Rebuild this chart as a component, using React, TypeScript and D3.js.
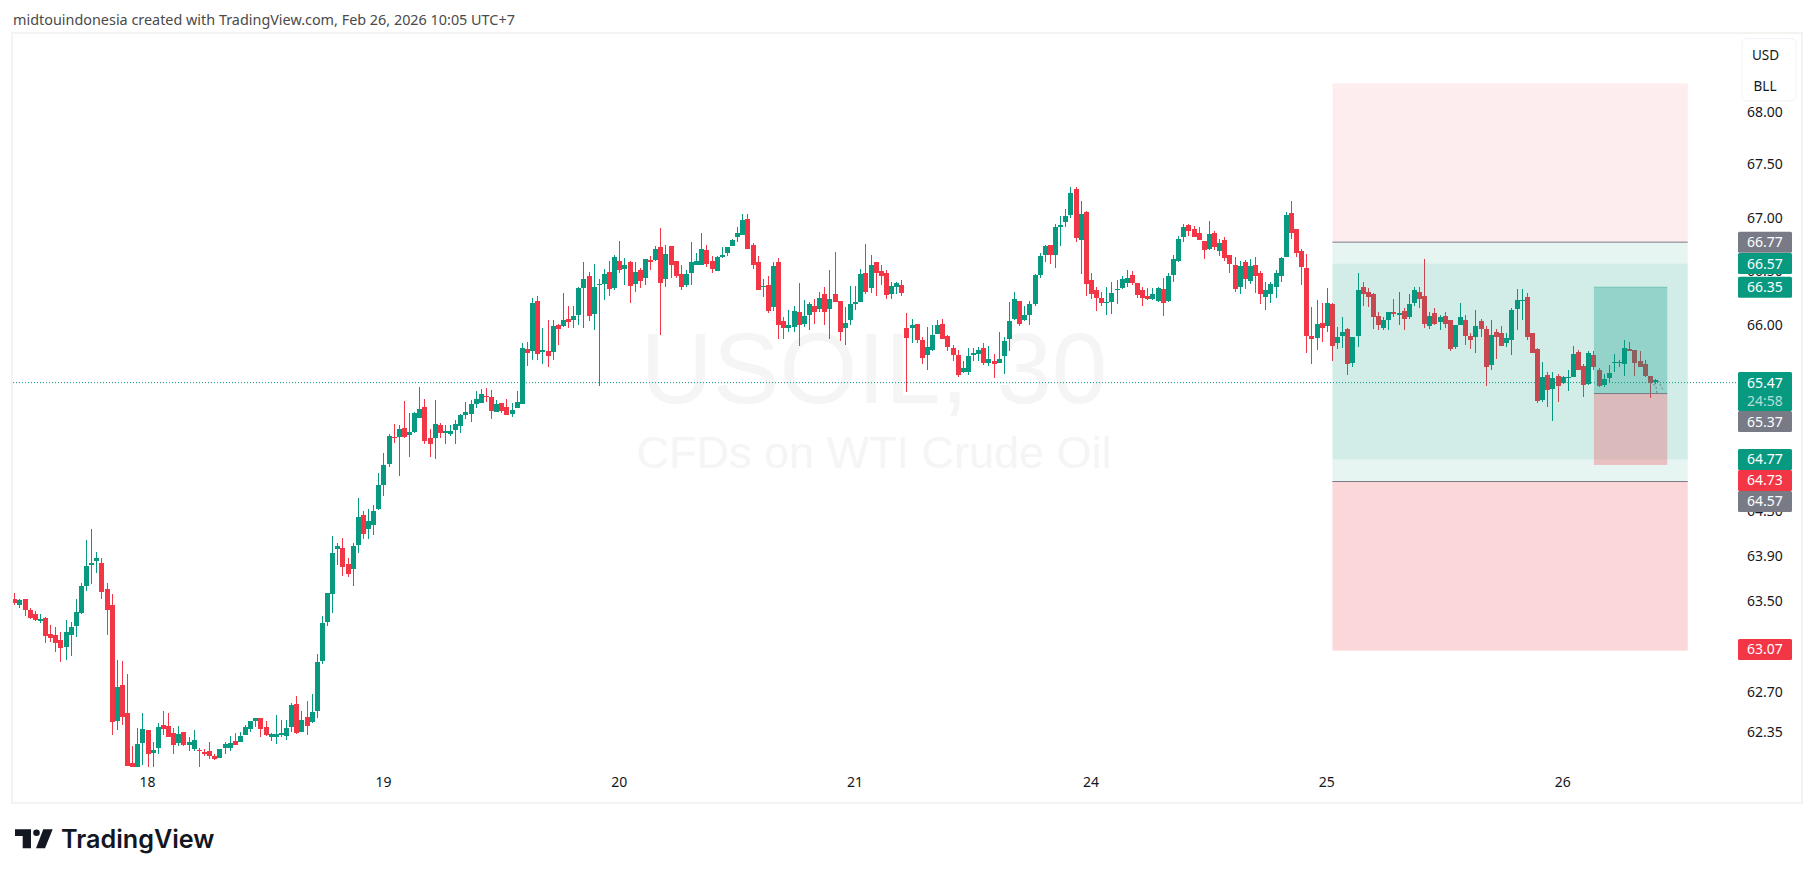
import * as d3 from 'd3';

const opens = [
  63.52,63.46,63.52,63.42,63.38,63.32,63.35,63.21,63.20,63.15,
  63.09,63.20,63.28,63.39,63.63,63.82,63.86,63.84,63.61,63.46,
  62.44,62.76,62.51,62.08,62.04,62.25,62.36,62.16,62.21,62.41,
  62.40,62.34,62.25,62.35,62.23,62.20,62.19,62.17,62.18,62.14,
  62.12,62.21,62.21,62.27,62.26,62.32,62.37,62.44,62.47,62.39,
  62.30,62.30,62.32,62.31,62.39,62.59,62.35,62.48,62.43,62.53,
  62.97,63.31,63.56,63.96,63.97,63.83,63.78,64.00,64.27,64.14,
  64.18,64.32,64.54,64.73,64.97,64.97,65.06,64.99,65.02,65.15,
  65.25,64.96,64.96,65.08,65.01,65.00,65.04,65.07,65.17,65.18,
  65.27,65.28,65.35,65.34,65.20,65.28,65.25,65.18,65.24,65.27,
  65.78,65.76,66.22,65.75,65.76,65.75,66.00,65.99,66.06,66.05,
  66.09,66.34,66.45,66.10,66.37,66.38,66.49,66.34,66.59,66.52,
  66.58,66.38,66.51,66.44,66.60,66.60,66.72,66.43,66.73,66.59,
  66.47,66.37,66.48,66.56,66.56,66.70,66.59,66.50,66.63,66.67,
  66.73,66.82,66.84,66.99,66.74,66.58,66.35,66.37,66.17,66.58,
  66.04,65.97,65.98,66.12,66.01,66.09,66.18,66.15,66.29,66.15,
  66.29,66.22,65.97,66.05,66.19,66.21,66.48,66.34,66.58,66.50,
  66.48,66.29,66.35,66.37,65.97,65.97,66.01,65.86,65.72,65.77,
  65.92,66.01,65.90,65.79,65.72,65.57,65.57,65.72,65.73,65.79,
  65.65,65.67,65.65,65.71,65.87,66.06,66.22,66.05,66.09,66.19,
  66.46,66.65,66.74,66.65,66.91,66.96,67.02,67.27,66.79,67.05,
  66.42,66.32,66.25,66.20,66.21,66.32,66.34,66.39,66.46,66.39,
  66.32,66.27,66.24,66.22,66.33,66.22,66.46,66.59,66.82,66.93,
  66.89,66.86,66.78,66.71,66.86,66.69,66.79,66.65,66.56,66.35,
  66.58,66.41,66.56,66.48,66.26,66.29,66.35,66.45,66.63,67.04,
  66.89,66.69,66.53,65.90,65.88,66.02,65.99,66.19,65.83,65.90,
  65.96,65.65,65.90,66.35,66.31,66.29,66.08,65.97,66.05,66.12,
  66.09,66.13,66.07,66.20,66.31,66.27,65.99,66.11,66.03,66.08,
  66.05,65.80,66.00,66.05,65.90,65.89,66.04,65.96,65.63,65.94,
  65.93,65.83,65.86,66.15,66.22,66.26,65.93,65.78,65.31,65.54,
  65.41,65.53,65.47,65.51,65.52,65.75,65.62,65.46,65.72,65.59,
  65.45,65.51,65.65,65.65,65.64,65.78,65.77,65.67,65.64,65.53,65.48,
];

const closes = [
  63.48,63.51,63.42,63.35,63.33,63.34,63.19,63.17,63.13,63.08,
  63.22,63.27,63.40,63.63,63.81,63.84,63.88,63.58,63.42,62.43,
  62.74,62.48,62.05,62.04,62.24,62.37,62.15,62.19,62.39,62.37,
  62.30,62.23,62.33,62.23,62.26,62.28,62.18,62.15,62.14,62.11,
  62.20,62.24,62.25,62.23,62.31,62.39,62.44,62.47,62.37,62.32,
  62.33,62.33,62.34,62.38,62.58,62.34,62.45,62.40,62.52,62.96,
  63.30,63.57,63.93,63.99,63.80,63.74,63.99,64.25,64.10,64.21,
  64.30,64.54,64.72,64.98,64.96,65.05,64.97,65.02,65.19,65.23,
  64.94,64.91,65.09,65.01,65.03,65.03,65.09,65.17,65.20,65.27,
  65.32,65.37,65.34,65.21,65.27,65.21,65.17,65.22,65.29,65.79,
  65.74,66.20,65.73,65.77,65.71,65.99,65.96,66.05,66.03,66.08,
  66.34,66.43,66.08,66.35,66.38,66.47,66.33,66.63,66.51,66.56,
  66.36,66.49,66.41,66.61,66.58,66.71,66.39,66.66,66.56,66.45,
  66.35,66.47,66.58,66.59,66.71,66.57,66.52,66.63,66.65,66.72,
  66.79,66.86,66.98,66.71,66.56,66.32,66.36,66.13,66.55,66.00,
  65.97,66.00,66.13,66.00,66.08,66.19,66.12,66.25,66.12,66.24,
  66.21,65.94,66.02,66.19,66.21,66.47,66.31,66.56,66.48,66.45,
  66.28,66.36,66.39,66.30,65.88,66.00,65.86,65.70,65.80,65.91,
  66.00,65.87,65.80,65.72,65.54,65.60,65.71,65.74,65.77,65.65,
  65.69,65.64,65.69,65.85,66.04,66.24,66.01,66.09,66.19,66.46,
  66.64,66.73,66.65,66.91,66.93,67.01,67.23,66.81,67.03,66.38,
  66.29,66.25,66.20,66.21,66.30,66.33,66.43,66.44,66.39,66.28,
  66.25,66.24,66.29,66.34,66.20,66.45,66.61,66.80,66.91,66.87,
  66.82,66.79,66.70,66.85,66.72,66.76,66.62,66.57,66.33,66.55,
  66.43,66.55,66.45,66.29,66.32,66.38,66.48,66.62,67.02,66.86,
  66.67,66.54,65.90,65.87,66.01,65.97,66.20,65.81,65.89,65.94,
  65.64,65.89,66.32,66.29,66.26,66.07,66.00,66.05,66.12,66.10,
  66.11,66.06,66.19,66.32,66.24,66.01,66.08,66.01,66.07,66.01,
  65.78,66.00,66.07,65.90,65.86,65.99,65.96,65.61,65.91,65.89,
  65.81,65.88,66.14,66.23,66.23,65.89,65.74,65.30,65.52,65.40,
  65.51,65.44,65.52,65.52,65.73,65.59,65.45,65.74,65.61,65.44,
  65.50,65.56,65.66,65.66,65.79,65.76,65.65,65.61,65.53,65.47,65.49,
];

const highs = [
  63.57,63.52,63.52,63.44,63.41,63.38,63.36,63.29,63.27,63.22,
  63.33,63.31,63.52,63.66,64.04,64.14,63.94,63.88,63.66,63.56,
  62.98,62.97,62.85,62.22,62.38,62.51,62.36,62.26,62.42,62.53,
  62.51,62.38,62.40,62.35,62.30,62.36,62.21,62.20,62.26,62.15,
  62.20,62.26,62.31,62.34,62.35,62.41,62.44,62.47,62.47,62.44,
  62.34,62.49,62.45,62.45,62.60,62.66,62.53,62.62,62.68,63.03,
  63.37,63.57,64.08,64.02,64.06,63.88,64.02,64.42,64.30,64.32,
  64.36,64.65,64.83,65.00,65.09,65.08,65.30,65.19,65.20,65.43,
  65.32,65.05,65.31,65.10,65.08,65.08,65.13,65.18,65.29,65.31,
  65.39,65.41,65.42,65.40,65.31,65.28,65.32,65.28,65.39,65.83,
  65.84,66.25,66.27,65.97,66.05,66.05,66.01,66.30,66.18,66.18,
  66.35,66.58,66.49,66.57,66.43,66.52,66.59,66.65,66.78,66.62,
  66.59,66.58,66.53,66.61,66.64,66.73,66.90,66.74,66.73,66.59,
  66.56,66.51,66.77,66.67,66.86,66.74,66.64,66.64,66.72,66.72,
  66.80,66.91,67.03,67.03,66.76,66.64,66.43,66.45,66.58,66.62,
  66.07,66.14,66.18,66.39,66.23,66.21,66.24,66.31,66.35,66.51,
  66.68,66.22,66.17,66.36,66.36,66.52,66.75,66.65,66.58,66.56,
  66.51,66.40,66.40,66.42,66.11,66.06,66.01,65.89,65.98,66.00,
  66.05,66.06,65.91,65.82,65.77,65.67,65.79,65.79,65.80,65.83,
  65.81,65.73,65.94,65.89,66.21,66.31,66.22,66.18,66.22,66.47,
  66.67,66.74,66.74,66.94,67.01,67.08,67.29,67.29,67.16,67.06,
  66.48,66.35,66.31,66.35,66.40,66.42,66.45,66.51,66.50,66.39,
  66.35,66.34,66.34,66.35,66.44,66.48,66.65,66.83,66.94,66.94,
  66.92,66.91,66.78,66.97,66.87,66.80,66.82,66.65,66.63,66.59,
  66.60,66.61,66.63,66.50,66.40,66.40,66.51,66.63,67.05,67.16,
  66.89,66.71,66.66,66.17,66.23,66.20,66.34,66.20,65.98,66.07,
  65.97,65.89,66.48,66.40,66.34,66.30,66.12,66.07,66.12,66.24,
  66.31,66.16,66.29,66.35,66.35,66.61,66.12,66.16,66.09,66.12,
  66.05,66.00,66.20,66.09,65.93,66.14,66.06,65.99,66.05,65.96,
  65.99,65.93,66.16,66.33,66.33,66.30,65.93,65.79,65.66,65.57,
  65.57,65.55,65.53,65.59,65.81,65.77,65.64,65.76,65.76,65.60,
  65.55,65.63,65.73,65.68,65.86,65.84,65.77,65.76,65.68,65.53,65.50,
];

const lows = [
  63.46,63.44,63.37,63.34,63.32,63.30,63.13,63.14,63.05,62.96,
  62.98,63.01,63.18,63.38,63.59,63.65,63.75,63.52,63.20,62.32,
  62.36,62.41,62.05,62.04,62.04,62.06,62.04,62.04,62.15,62.32,
  62.30,62.15,62.22,62.22,62.18,62.18,62.04,62.14,62.11,62.10,
  62.12,62.15,62.18,62.23,62.26,62.32,62.35,62.39,62.30,62.31,
  62.27,62.24,62.30,62.28,62.35,62.33,62.35,62.32,62.42,62.47,
  62.94,63.28,63.39,63.82,63.72,63.71,63.63,63.93,64.05,64.05,
  64.09,64.31,64.44,64.70,64.92,64.62,64.96,64.79,65.01,65.15,
  64.91,64.79,64.77,64.96,64.91,64.98,64.91,65.01,65.14,65.11,
  65.24,65.28,65.29,65.14,65.20,65.19,65.17,65.16,65.24,65.27,
  65.62,65.68,65.68,65.64,65.61,65.68,65.82,65.98,65.97,65.97,
  66.00,65.97,66.04,65.95,65.44,66.23,66.27,66.32,66.48,66.37,
  66.20,66.31,66.34,66.37,66.51,66.59,65.91,66.35,66.44,66.44,
  66.32,66.35,66.37,66.56,66.56,66.54,66.48,66.50,66.62,66.64,
  66.73,66.77,66.84,66.71,66.52,66.32,66.26,66.11,66.13,65.87,
  65.87,65.94,65.94,65.81,65.98,65.95,66.01,66.12,66.00,65.87,
  66.21,65.85,65.82,66.00,66.14,66.21,66.29,66.30,66.27,66.37,
  66.24,66.24,66.29,66.27,65.38,65.83,65.83,65.64,65.59,65.76,
  65.92,65.87,65.76,65.67,65.52,65.56,65.54,65.67,65.67,65.63,
  65.62,65.51,65.65,65.55,65.76,66.05,65.99,66.04,66.00,66.18,
  66.44,66.58,66.57,66.53,66.73,66.91,67.00,66.77,66.47,66.27,
  66.24,66.13,66.18,66.09,66.10,66.19,66.33,66.35,66.37,66.25,
  66.18,66.23,66.23,66.21,66.08,66.21,66.40,66.58,66.77,66.83,
  66.82,66.79,66.61,66.70,66.70,66.64,66.59,66.48,66.31,66.29,
  66.33,66.38,66.30,66.19,66.14,66.20,66.25,66.40,66.63,66.80,
  66.63,66.37,65.74,65.64,65.77,65.84,65.94,65.67,65.78,65.79,
  65.54,65.61,65.80,66.18,66.17,65.96,65.95,65.95,65.95,66.07,
  66.00,65.95,66.06,66.18,66.16,65.97,65.96,66.00,65.95,65.97,
  65.76,65.78,66.00,65.82,65.78,65.74,65.89,65.44,65.59,65.69,
  65.81,65.80,65.72,65.95,66.05,65.86,65.74,65.28,65.29,65.25,
  65.12,65.29,65.46,65.39,65.52,65.59,65.34,65.45,65.59,65.43,
  65.43,65.47,65.57,65.61,65.53,65.76,65.53,65.61,65.52,65.33,65.46,
];

const priceTicks = [68, 67.5, 67, 66.5, 66, 65.5, 65.1, 64.7, 64.3, 63.9, 63.5, 63.1, 62.7, 62.35];
const dayLabels = ['18', '19', '20', '21', '24', '25', '26'];
const dayBars = [26, 72, 118, 164, 210, 256, 302];

// position tools: bar spans and price levels
const bigTool = { fromBar: 257.1, toBar: 326.4, target: 68.27, stopTop: 66.77, entryTop: 66.57, entryBottom: 64.77, stopBottom: 64.57, end: 63.06 };
const smallTool = { fromBar: 308.1, toBar: 322.4, top: 66.35, entry: 65.37, bottom: 64.72 };

// small dashed projection left at the last bars: [bar, price] legs
const projection = [
  [[319.0, 65.47], [320.2, 65.44], [320.4, 65.36]],
  [[320.6, 65.49], [321.6, 65.40]],
];

const lastPrice = 65.47;
const countdown = '24:58';
const tagPrices = [66.77, 66.57, 66.35, 65.47, 65.37, 64.77, 64.73, 64.57, 63.07];
const tagColors = ['#787b86', '#089981', '#089981', '#089981', '#787b86', '#089981', '#f23645', '#787b86', '#f23645'];

const UP = '#089981';
const DOWN = '#f23645';
const FONT = '"Noto Sans", "Open Sans", sans-serif';

const WIDTH = 1815;
const HEIGHT = 877;
const plot = { left: 13, right: 1738, top: 34, bottom: 802, edge: 1801 };

const x = d3.scaleLinear().domain([0, 320]).range([14.3, 14.3 + 320 * 5.127]);
const y = d3.scaleLog().domain([68, 62.35]).range([111.7, 731.5]);

function layoutTags() {
  let prevBottom = -Infinity;
  return tagPrices.map((price, i) => {
    const h = price === lastPrice ? 39 : 21;
    const top = Math.max(y(price) - 10.5, prevBottom);
    prevBottom = top + h;
    return { price, color: tagColors[i], top, h };
  });
}

function Candles() {
  return (
    <g clipPath="url(#plot-clip)">
      {opens.map((o, i) => {
        const c = closes[i];
        const color = c >= o ? UP : DOWN;
        const cx = Math.round(x(i));
        const top = Math.round(y(Math.max(o, c)));
        const bottom = Math.round(y(Math.min(o, c)));
        return (
          <g key={i} fill={color}>
            <rect x={cx} width={1} y={Math.round(y(highs[i]))} height={Math.round(y(lows[i])) - Math.round(y(highs[i]))} />
            <rect x={cx - 2} width={5} y={top} height={Math.max(1, bottom - top)} />
          </g>
        );
      })}
    </g>
  );
}

export default function App() {
  const tags = layoutTags();
  const bx0 = x(bigTool.fromBar);
  const bx1 = x(bigTool.toBar);
  const sx0 = x(smallTool.fromBar);
  const sx1 = x(smallTool.toBar);
  const band = (a: number, b: number, fill: string) => (
    <rect x={bx0} width={bx1 - bx0} y={y(a)} height={y(b) - y(a)} fill={fill} />
  );
  const projLine = d3.line<number[]>().x((d) => x(d[0])).y((d) => y(d[1]));

  return (
    <svg
      width={WIDTH}
      height={HEIGHT}
      style={{ position: 'absolute', left: 0, top: 0, background: '#fff' }}
      fontFamily={FONT}
    >
      <defs>
        <clipPath id="plot-clip">
          <rect x={plot.left} y={plot.top} width={plot.right - plot.left} height={plot.bottom - plot.top} />
        </clipPath>
      </defs>

      <text x={13} y={25} fontSize={14.4} fill="#4a4a4a">
        midtouindonesia created with TradingView.com, Feb 26, 2026 10:05 UTC+7
      </text>

      <rect
        x={plot.left - 1}
        y={plot.top - 1}
        width={plot.edge - plot.left + 2}
        height={plot.bottom - plot.top + 2}
        fill="none"
        stroke="#f3f3f3"
        strokeWidth={2}
      />

      <g textAnchor="middle" fill="#f5f5f5" fontFamily='"Liberation Sans", Arial, sans-serif'>
        <text x={874} y={403} fontSize={100}>USOIL, 30</text>
        <text x={874} y={468} fontSize={45}>CFDs on WTI Crude Oil</text>
      </g>

      <line
        x1={plot.left}
        x2={plot.right}
        y1={y(lastPrice)}
        y2={y(lastPrice)}
        stroke={UP}
        strokeWidth={1}
        strokeDasharray="1 2"
      />

      <Candles />

      <g>
        {band(bigTool.target, bigTool.stopTop, 'rgba(242,54,69,0.09)')}
        {band(bigTool.stopTop, bigTool.entryTop, 'rgba(8,153,129,0.1)')}
        {band(bigTool.entryTop, bigTool.entryBottom, 'rgba(8,153,129,0.18)')}
        {band(bigTool.entryBottom, bigTool.stopBottom, 'rgba(8,153,129,0.1)')}
        {band(bigTool.stopBottom, bigTool.end, 'rgba(242,54,69,0.2)')}
        <line x1={bx0} x2={bx1} y1={y(bigTool.stopTop)} y2={y(bigTool.stopTop)} stroke="#787b86" />
        <line x1={bx0} x2={bx1} y1={y(bigTool.stopBottom)} y2={y(bigTool.stopBottom)} stroke="#787b86" />

        <rect x={sx0} width={sx1 - sx0} y={y(smallTool.top)} height={y(smallTool.entry) - y(smallTool.top)} fill="rgba(8,153,129,0.3)" />
        <rect x={sx0} width={sx1 - sx0} y={y(smallTool.entry)} height={y(smallTool.bottom) - y(smallTool.entry)} fill="rgba(242,54,69,0.28)" />
        <line x1={sx0} x2={sx1} y1={y(smallTool.top)} y2={y(smallTool.top)} stroke="#089981" strokeOpacity={0.35} />
        <line x1={sx0} x2={sx1} y1={y(smallTool.entry)} y2={y(smallTool.entry)} stroke="#787b86" />
      </g>

      {projection.map((leg, i) => (
        <path key={i} d={projLine(leg) ?? ''} fill="none" stroke="#787b86" strokeWidth={1} strokeDasharray="2 2" />
      ))}

      <g fontSize={14} fill="#131722" textAnchor="middle">
        {dayLabels.map((d, i) => (
          <text key={d} x={x(dayBars[i])} y={787}>{d}</text>
        ))}
      </g>

      <g fontSize={14} fill="#131722" textAnchor="middle">
        {priceTicks.map((p) => (
          <text key={p} x={1765} y={y(p) + 5}>{p.toFixed(2)}</text>
        ))}
      </g>

      <g fontSize={14} textAnchor="middle">
        {tags.map((t) => (
          <g key={t.price}>
            <rect x={1738} y={t.top} width={54} height={t.h} rx={1.5} fill={t.color} />
            <text x={1765} y={t.top + 15.5} fill="#fff">{t.price.toFixed(2)}</text>
            {t.price === lastPrice && (
              <text x={1765} y={t.top + 33.5} fill="#fff" fillOpacity={0.7}>{countdown}</text>
            )}
          </g>
        ))}
      </g>

      <g>
        <rect x={1742} y={38.5} width={54} height={62.5} rx={5} fill="#fff" stroke="#f0f3fa" />
        <text x={1765.5} y={59.5} fontSize={13.5} fill="#131722" textAnchor="middle">USD</text>
        <text x={1765} y={90.5} fontSize={13.5} fill="#131722" textAnchor="middle">BLL</text>
      </g>

      <g fill="#131722">
        <path d="M15 829.3H31V848.3H22.7V836H15Z" />
        <circle cx={36.5} cy={832.7} r={3.3} />
        <path d="M43.3 829.3H52.7L45 848.3H36Z" />
        <text x={61} y={848} fontFamily="Inter, sans-serif" fontWeight={600} fontSize={25.2}>TradingView</text>
      </g>
    </svg>
  );
}
